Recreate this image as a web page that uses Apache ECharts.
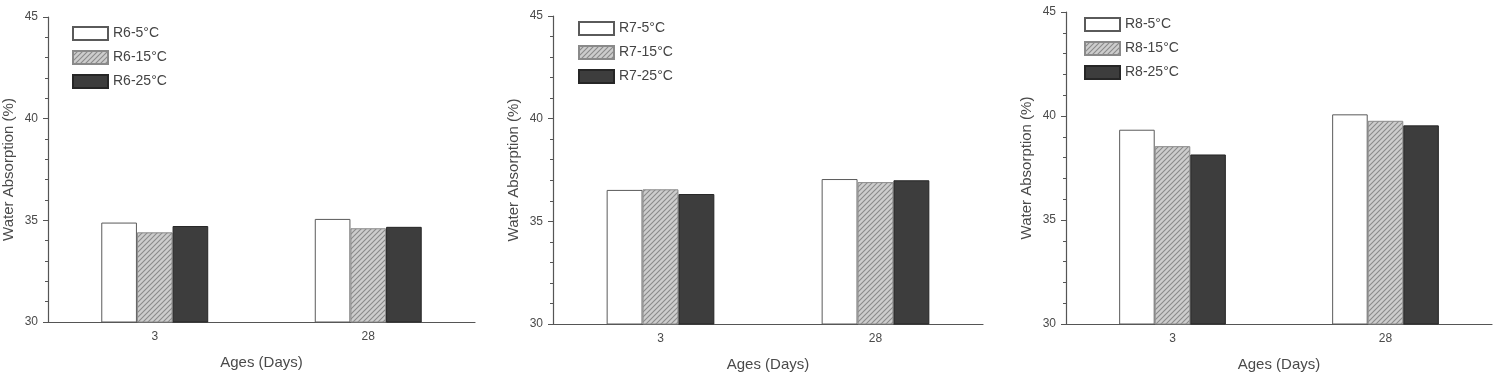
<!DOCTYPE html>
<html>
<head>
<meta charset="utf-8">
<script src="https://cdn.jsdelivr.net/npm/echarts@6/dist/echarts.min.js"></script>
<style>
  html, body { margin: 0; padding: 0; background: #fff; }
  #main { width: 1500px; height: 377px; }
</style>
</head>
<body>
<div id="main"></div>
<script>
// data
var ages = ["3", "28"];
var yTicks = [30, 35, 40, 45];
var tempLabels = ["5°C", "15°C", "25°C"];

var r6_5 = [34.89, 35.07];
var r6_15 = [34.41, 34.61];
var r6_25 = [34.72, 34.68];

var r7_5 = [36.53, 37.06];
var r7_15 = [36.56, 36.91];
var r7_25 = [36.33, 37.0];

var r8_5 = [39.34, 40.08];
var r8_15 = [38.55, 39.77];
var r8_25 = [38.15, 39.55];

var mixes = ["R6", "R7", "R8"];
var mixData = [
  [r6_5, r6_15, r6_25],
  [r7_5, r7_15, r7_25],
  [r8_5, r8_15, r8_25]
];

// hatch pattern "////"
function makeHatch() {
  var c = document.createElement("canvas");
  c.width = 5;
  c.height = 5;
  var ctx = c.getContext("2d");
  ctx.fillStyle = "#cdcdcd";
  ctx.fillRect(0, 0, 5, 5);
  ctx.strokeStyle = "#8a8a8a";
  ctx.lineWidth = 1.1;
  ctx.beginPath();
  ctx.moveTo(0, 5); ctx.lineTo(5, 0);
  ctx.moveTo(-2.5, 2.5); ctx.lineTo(2.5, -2.5);
  ctx.moveTo(2.5, 7.5); ctx.lineTo(7.5, 2.5);
  ctx.stroke();
  return c;
}
var hatch = makeHatch();

var styles = [
  { color: "#ffffff", borderColor: "#5a5a5a", borderWidth: 1 },
  { color: { image: hatch, repeat: "repeat" }, borderColor: "#8a8a8a", borderWidth: 1 },
  { color: "#3d3d3d", borderColor: "#262626", borderWidth: 1 }
];

// panel placement
var grids = [
  { left: 47, right: 1025, top: 17, bottom: 55 },
  { left: 553, right: 517, top: 16, bottom: 51 },
  { left: 1066, right: 8, top: 12, bottom: 49 }
];
var legendPos = [
  { left: 67, top: 21 },
  { left: 573, top: 16 },
  { left: 1079, top: 12 }
];

var textColor = "#4a4a4a";
var lineColor = "#555555";
var fontFamily = "Liberation Sans, Arial, sans-serif";

var xAxes = [], yAxes = [], series = [], legends = [];

for (var g = 0; g < 3; g++) {
  xAxes.push({
    gridIndex: g,
    type: "category",
    data: ages,
    name: "Ages (Days)",
    nameLocation: "middle",
    nameGap: 33,
    nameTextStyle: { color: textColor, fontSize: 15, fontFamily: fontFamily },
    axisLine: { lineStyle: { color: lineColor, width: 1.2 } },
    axisTick: { alignWithLabel: true, length: 5, lineStyle: { color: lineColor } },
    axisLabel: { color: textColor, fontSize: 12, margin: 9, fontFamily: fontFamily }
  });
  yAxes.push({
    gridIndex: g,
    type: "value",
    min: yTicks[0],
    max: yTicks[yTicks.length - 1],
    interval: 5,
    name: "Water Absorption (%)",
    nameLocation: "middle",
    nameGap: 32,
    nameTextStyle: { color: textColor, fontSize: 15, fontFamily: fontFamily },
    axisLine: { show: true, lineStyle: { color: lineColor, width: 1.2 } },
    axisTick: { show: true, length: 5, lineStyle: { color: lineColor } },
    minorTick: { show: true, splitNumber: 5, length: 3, lineStyle: { color: lineColor } },
    splitLine: { show: false },
    axisLabel: { color: textColor, fontSize: 12, margin: 10, fontFamily: fontFamily }
  });

  var names = [];
  for (var s = 0; s < 3; s++) {
    var nm = mixes[g] + "-" + tempLabels[s];
    names.push(nm);
    series.push({
      name: nm,
      type: "bar",
      xAxisIndex: g,
      yAxisIndex: g,
      data: mixData[g][s],
      barWidth: "16.7%",
      barGap: "0%",
      itemStyle: styles[s]
    });
  }
  legends.push({
    data: names,
    orient: "vertical",
    left: legendPos[g].left,
    top: legendPos[g].top,
    itemWidth: 35,
    itemHeight: 13,
    itemGap: 9,
    icon: "rect",
    textStyle: { color: "#444", fontSize: 14, fontFamily: fontFamily },
    selectedMode: false
  });
}

var chart = echarts.init(document.getElementById("main"));
chart.setOption({
  animation: false,
  backgroundColor: "#fff",
  grid: grids,
  xAxis: xAxes,
  yAxis: yAxes,
  legend: legends,
  series: series
});
</script>
</body>
</html>
